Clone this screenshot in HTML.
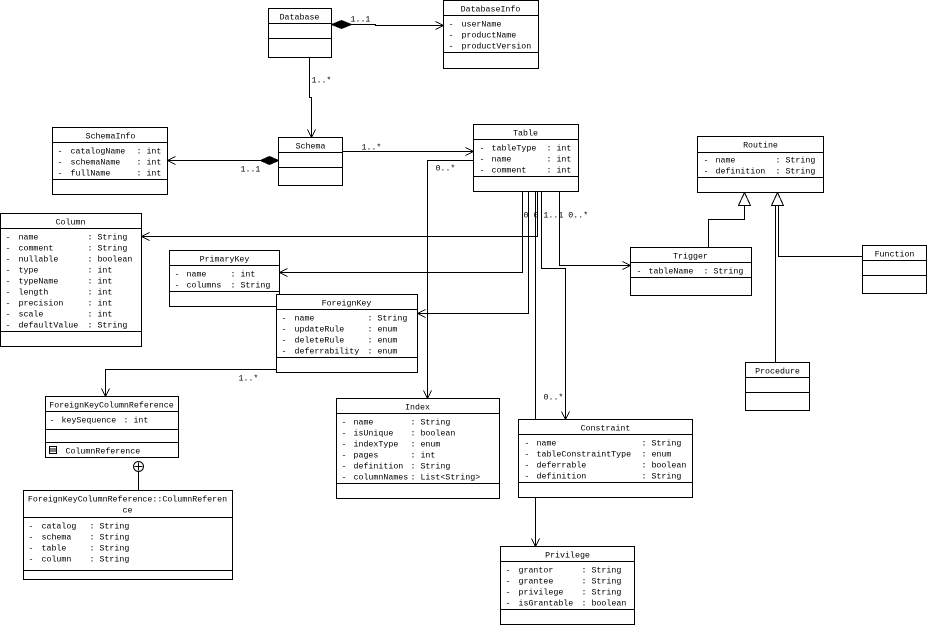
<!DOCTYPE html>
<html><head><meta charset="utf-8"><style>
html,body{margin:0;padding:0;background:#fff;}
svg{display:block}
text{font-family:"Liberation Mono",monospace;font-size:8.3px;fill:#000;}
.c{text-anchor:middle}
.l{stroke:#000;stroke-width:1;fill:none}
.b{stroke:#000;stroke-width:1;fill:#fff}
</style></head><body>
<svg width="927" height="625" viewBox="0 0 927 625" xmlns="http://www.w3.org/2000/svg" shape-rendering="crispEdges">
<g transform="translate(0.5,0.5)">
<!-- connectors -->
<polyline class="l" points="351,24 375,24 375,25 443,25"/>
<polyline class="l" points="435,21 443,25 435,29"/>
<polygon points="331,24 341,20 351,24 341,28" fill="#000" stroke="#000"/>
<polyline class="l" points="309,57 309,97 311,97 311,137"/>
<polyline class="l" points="307,129 311,137 315,129"/>
<polyline class="l" points="260,160 167,160"/>
<polyline class="l" points="175,156 167,160 175,164"/>
<polygon points="278,160 269,156 260,160 269,164" fill="#000" stroke="#000"/>
<polyline class="l" points="342,151 473,151"/>
<polyline class="l" points="465,147 473,151 465,155"/>
<polyline class="l" points="473,160 427,160 427,398"/>
<polyline class="l" points="423,390 427,398 431,390"/>
<polyline class="l" points="537,191 537,236 141,236"/>
<polyline class="l" points="149,232 141,236 149,240"/>
<polyline class="l" points="522,191 522,272 279,272"/>
<polyline class="l" points="287,268 279,272 287,276"/>
<polyline class="l" points="528,191 528,313 417,313"/>
<polyline class="l" points="425,309 417,313 425,317"/>
<polyline class="l" points="559,191 559,265 630,265"/>
<polyline class="l" points="622,261 630,265 622,269"/>
<polyline class="l" points="541,191 541,268 565,268 565,419"/>
<polyline class="l" points="561,411 565,419 569,411"/>
<polyline class="l" points="535,191 535,546"/>
<polyline class="l" points="531,538 535,546 539,538"/>
<polyline class="l" points="276,369 105,369 105,396"/>
<polyline class="l" points="101,388 105,396 109,388"/>
<polyline class="l" points="708,247 708,219 744,219 744,205"/>
<polyline class="l" points="775,362 775,205"/>
<polyline class="l" points="862,256 778,256 778,205"/>
<polygon class="b" points="744,192 738,205 750,205"/>
<polygon class="b" points="777,192 771,205 783,205"/>
<line class="l" x1="138" y1="471" x2="138" y2="490"/>
<circle cx="138" cy="466" r="5" class="b" shape-rendering="auto"/>
<line class="l" x1="134" y1="466" x2="142" y2="466"/><line class="l" x1="138" y1="462" x2="138" y2="470"/>

<!-- labels -->
<text x="350" y="21">1..1</text>
<text x="311" y="82">1..*</text>
<text x="240" y="171">1..1</text>
<text x="361" y="149">1..*</text>
<text x="435" y="170">0..*</text>
<text x="523" y="217">0 0 1..1 0..*</text>
<text x="543" y="399">0..*</text>
<text x="238" y="380">1..*</text>

<!-- Database -->
<rect class="b" x="268" y="8" width="63" height="49"/>
<line class="l" x1="268" y1="23" x2="331" y2="23"/><line class="l" x1="268" y1="38" x2="331" y2="38"/>
<text class="c" x="299" y="19">Database</text>
<!-- DatabaseInfo -->
<rect class="b" x="443" y="0" width="95" height="68"/>
<line class="l" x1="443" y1="15" x2="538" y2="15"/><line class="l" x1="443" y1="52" x2="538" y2="52"/>
<text class="c" x="490" y="11">DatabaseInfo</text>
<text x="448" y="26">-</text><text x="461" y="26">userName</text>
<text x="448" y="37">-</text><text x="461" y="37">productName</text>
<text x="448" y="48">-</text><text x="461" y="48">productVersion</text>
<!-- Schema -->
<rect class="b" x="278" y="137" width="64" height="48"/>
<line class="l" x1="278" y1="152" x2="342" y2="152"/><line class="l" x1="278" y1="167" x2="342" y2="167"/>
<text class="c" x="310" y="148">Schema</text>
<!-- SchemaInfo -->
<rect class="b" x="52" y="127" width="115" height="67"/>
<line class="l" x1="52" y1="142" x2="167" y2="142"/><line class="l" x1="52" y1="179" x2="167" y2="179"/>
<text class="c" x="110" y="138">SchemaInfo</text>
<text x="57" y="153">-</text><text x="70" y="153">catalogName</text><text x="136" y="153">: int</text>
<text x="57" y="164">-</text><text x="70" y="164">schemaName</text><text x="136" y="164">: int</text>
<text x="57" y="175">-</text><text x="70" y="175">fullName</text><text x="136" y="175">: int</text>
<!-- Table -->
<rect class="b" x="473" y="124" width="105" height="67"/>
<line class="l" x1="473" y1="139" x2="578" y2="139"/><line class="l" x1="473" y1="176" x2="578" y2="176"/>
<text class="c" x="525" y="135">Table</text>
<text x="479" y="150">-</text><text x="491" y="150">tableType</text><text x="546" y="150">: int</text>
<text x="479" y="161">-</text><text x="491" y="161">name</text><text x="546" y="161">: int</text>
<text x="479" y="172">-</text><text x="491" y="172">comment</text><text x="546" y="172">: int</text>
<!-- Routine -->
<rect class="b" x="697" y="136" width="126" height="56"/>
<line class="l" x1="697" y1="152" x2="823" y2="152"/><line class="l" x1="697" y1="177" x2="823" y2="177"/>
<text class="c" x="760" y="147">Routine</text>
<text x="703" y="162">-</text><text x="715" y="162">name</text><text x="775" y="162">: String</text>
<text x="703" y="173">-</text><text x="715" y="173">definition</text><text x="775" y="173">: String</text>
<!-- Trigger -->
<rect class="b" x="630" y="247" width="121" height="48"/>
<line class="l" x1="630" y1="262" x2="751" y2="262"/><line class="l" x1="630" y1="277" x2="751" y2="277"/>
<text class="c" x="690" y="258">Trigger</text>
<text x="636" y="273">-</text><text x="648" y="273">tableName</text><text x="703" y="273">: String</text>
<!-- Function -->
<rect class="b" x="862" y="245" width="64" height="48"/>
<line class="l" x1="862" y1="260" x2="926" y2="260"/><line class="l" x1="862" y1="275" x2="926" y2="275"/>
<text class="c" x="894" y="256">Function</text>
<!-- Procedure -->
<rect class="b" x="745" y="362" width="64" height="48"/>
<line class="l" x1="745" y1="377" x2="809" y2="377"/><line class="l" x1="745" y1="392" x2="809" y2="392"/>
<text class="c" x="777" y="373">Procedure</text>
<!-- Column -->
<rect class="b" x="0" y="213" width="141" height="133"/>
<line class="l" x1="0" y1="228" x2="141" y2="228"/><line class="l" x1="0" y1="331" x2="141" y2="331"/>
<text class="c" x="70" y="224">Column</text>
<text x="5" y="239">-</text><text x="18" y="239">name</text><text x="87" y="239">: String</text>
<text x="5" y="250">-</text><text x="18" y="250">comment</text><text x="87" y="250">: String</text>
<text x="5" y="261">-</text><text x="18" y="261">nullable</text><text x="87" y="261">: boolean</text>
<text x="5" y="272">-</text><text x="18" y="272">type</text><text x="87" y="272">: int</text>
<text x="5" y="283">-</text><text x="18" y="283">typeName</text><text x="87" y="283">: int</text>
<text x="5" y="294">-</text><text x="18" y="294">length</text><text x="87" y="294">: int</text>
<text x="5" y="305">-</text><text x="18" y="305">precision</text><text x="87" y="305">: int</text>
<text x="5" y="316">-</text><text x="18" y="316">scale</text><text x="87" y="316">: int</text>
<text x="5" y="327">-</text><text x="18" y="327">defaultValue</text><text x="87" y="327">: String</text>
<!-- PrimaryKey -->
<rect class="b" x="169" y="250" width="110" height="56"/>
<line class="l" x1="169" y1="265" x2="279" y2="265"/><line class="l" x1="169" y1="291" x2="279" y2="291"/>
<text class="c" x="224" y="261">PrimaryKey</text>
<text x="174" y="276">-</text><text x="186" y="276">name</text><text x="230" y="276">: int</text>
<text x="174" y="287">-</text><text x="186" y="287">columns</text><text x="230" y="287">: String</text>
<!-- ForeignKey -->
<rect class="b" x="276" y="294" width="141" height="78"/>
<line class="l" x1="276" y1="309" x2="417" y2="309"/><line class="l" x1="276" y1="357" x2="417" y2="357"/>
<text class="c" x="346" y="305">ForeignKey</text>
<text x="281" y="320">-</text><text x="294" y="320">name</text><text x="367" y="320">: String</text>
<text x="281" y="331">-</text><text x="294" y="331">updateRule</text><text x="367" y="331">: enum</text>
<text x="281" y="342">-</text><text x="294" y="342">deleteRule</text><text x="367" y="342">: enum</text>
<text x="281" y="353">-</text><text x="294" y="353">deferrability</text><text x="367" y="353">: enum</text>
<!-- FKCR -->
<rect class="b" x="45" y="396" width="133" height="61"/>
<line class="l" x1="45" y1="411" x2="178" y2="411"/><line class="l" x1="45" y1="429" x2="178" y2="429"/><line class="l" x1="45" y1="442" x2="178" y2="442"/>
<text class="c" x="111" y="407">ForeignKeyColumnReference</text>
<text x="49" y="422">-</text><text x="61" y="422">keySequence</text><text x="123" y="422">: int</text>
<rect class="b" x="49" y="446" width="7" height="7"/><line class="l" x1="49" y1="448.5" x2="56" y2="448.5"/><line class="l" x1="49" y1="450.5" x2="56" y2="450.5"/>
<text x="65" y="453">ColumnReference</text>
<!-- FKCR::ColumnReference -->
<rect class="b" x="23" y="490" width="209" height="89"/>
<line class="l" x1="23" y1="517" x2="232" y2="517"/><line class="l" x1="23" y1="570" x2="232" y2="570"/>
<text class="c" x="127" y="501">ForeignKeyColumnReference::ColumnReferen</text>
<text class="c" x="127" y="512">ce</text>
<text x="28" y="528">-</text><text x="41" y="528">catalog</text><text x="89" y="528">: String</text>
<text x="28" y="539">-</text><text x="41" y="539">schema</text><text x="89" y="539">: String</text>
<text x="28" y="550">-</text><text x="41" y="550">table</text><text x="89" y="550">: String</text>
<text x="28" y="561">-</text><text x="41" y="561">column</text><text x="89" y="561">: String</text>
<!-- Index -->
<rect class="b" x="336" y="398" width="163" height="100"/>
<line class="l" x1="336" y1="413" x2="499" y2="413"/><line class="l" x1="336" y1="483" x2="499" y2="483"/>
<text class="c" x="417" y="409">Index</text>
<text x="341" y="424">-</text><text x="353" y="424">name</text><text x="410" y="424">: String</text>
<text x="341" y="435">-</text><text x="353" y="435">isUnique</text><text x="410" y="435">: boolean</text>
<text x="341" y="446">-</text><text x="353" y="446">indexType</text><text x="410" y="446">: enum</text>
<text x="341" y="457">-</text><text x="353" y="457">pages</text><text x="410" y="457">: int</text>
<text x="341" y="468">-</text><text x="353" y="468">definition</text><text x="410" y="468">: String</text>
<text x="341" y="479">-</text><text x="353" y="479">columnNames</text><text x="410" y="479">: List&lt;String&gt;</text>
<!-- Constraint -->
<rect class="b" x="518" y="419" width="174" height="78"/>
<line class="l" x1="518" y1="434" x2="692" y2="434"/><line class="l" x1="518" y1="482" x2="692" y2="482"/>
<text class="c" x="605" y="430">Constraint</text>
<text x="524" y="445">-</text><text x="536" y="445">name</text><text x="641" y="445">: String</text>
<text x="524" y="456">-</text><text x="536" y="456">tableConstraintType</text><text x="641" y="456">: enum</text>
<text x="524" y="467">-</text><text x="536" y="467">deferrable</text><text x="641" y="467">: boolean</text>
<text x="524" y="478">-</text><text x="536" y="478">definition</text><text x="641" y="478">: String</text>
<!-- Privilege -->
<rect class="b" x="500" y="546" width="134" height="78"/>
<line class="l" x1="500" y1="561" x2="634" y2="561"/><line class="l" x1="500" y1="609" x2="634" y2="609"/>
<text class="c" x="567" y="557">Privilege</text>
<text x="505" y="572">-</text><text x="518" y="572">grantor</text><text x="581" y="572">: String</text>
<text x="505" y="583">-</text><text x="518" y="583">grantee</text><text x="581" y="583">: String</text>
<text x="505" y="594">-</text><text x="518" y="594">privilege</text><text x="581" y="594">: String</text>
<text x="505" y="605">-</text><text x="518" y="605">isGrantable</text><text x="581" y="605">: boolean</text>
</g>
</svg>
</body></html>
